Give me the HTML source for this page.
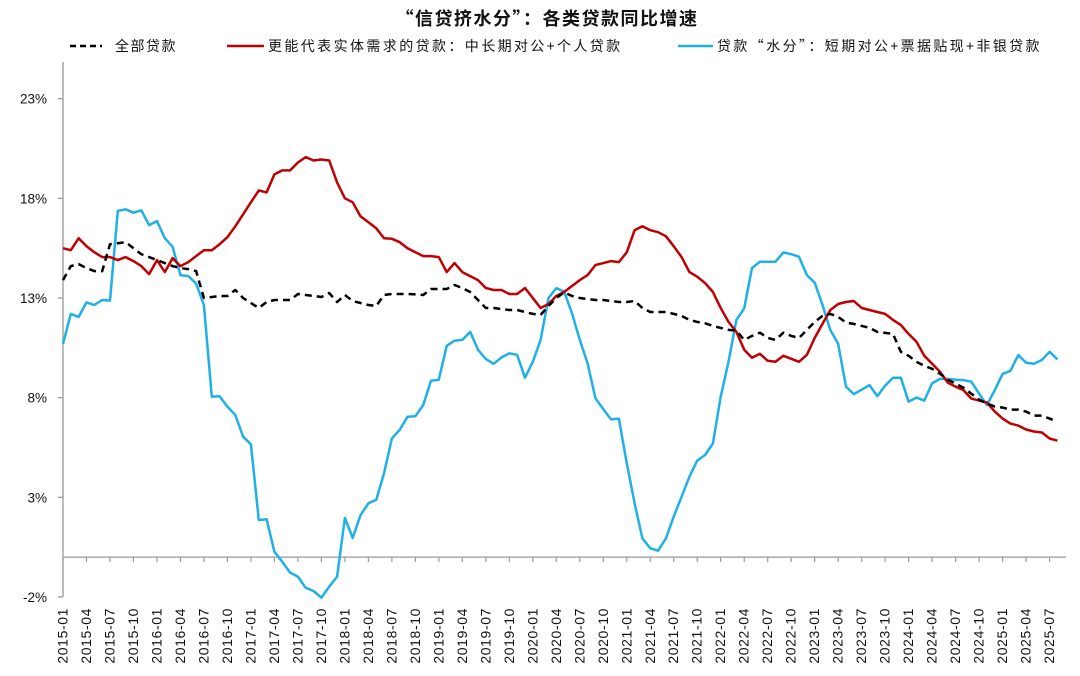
<!DOCTYPE html>
<html><head><meta charset="utf-8">
<style>
html,body{margin:0;padding:0;background:#fff;}
svg{display:block;font-family:"Liberation Sans","Noto Sans CJK SC",sans-serif;}
.cjk{font-family:"Noto Sans CJK SC","Liberation Sans",sans-serif;}
</style></head>
<body>
<svg id="chart" width="1080" height="676" viewBox="0 0 1080 676" xmlns="http://www.w3.org/2000/svg">
<text class="cjk" x="547" y="25" text-anchor="middle" font-size="18" font-weight="bold" fill="#111" letter-spacing="1.5">“信贷挤水分”：各类贷款同比增速</text>
<g>
  <g>
    <line x1="70" y1="46" x2="102" y2="46" stroke="#000" stroke-width="2.5" stroke-dasharray="6,4"/>
    <text class="cjk" x="115" y="51" font-size="14" fill="#111" letter-spacing="1.5">全部贷款</text>
  </g>
  <g>
    <line x1="227" y1="46" x2="264" y2="46" stroke="#c00000" stroke-width="2.5"/>
    <text class="cjk" x="268" y="51" font-size="14" fill="#111" letter-spacing="2.4">更能代表实体需求的贷款：中长期对公+个人贷款</text>
  </g>
  <g>
    <line x1="678" y1="46" x2="713" y2="46" stroke="#1fb0e6" stroke-width="2.5"/>
    <text class="cjk" x="717" y="51" font-size="14" fill="#111" letter-spacing="2.4">贷款“水分”：短期对公+票据贴现+非银贷款</text>
  </g>
</g>
<g id="axes"></g>
<g id="series"></g>
</svg>
<script>
const months = [];
for (let y = 2015; y <= 2025; y++) for (let m = 1; m <= 12; m++) { if (y === 2025 && m > 8) break; months.push(y + '-' + String(m).padStart(2, '0')); }
const yTicks = [-2, 3, 8, 13, 18, 23];
const totalLoans = [13.9,14.6,14.7,14.5,14.35,14.35,15.7,15.75,15.8,15.5,15.2,15.05,14.9,14.75,14.6,14.5,14.45,14.35,13.0,13.05,13.1,13.1,13.4,13.0,12.75,12.5,12.8,12.9,12.9,12.9,13.2,13.15,13.1,13.05,13.25,12.8,13.15,12.85,12.75,12.65,12.6,13.15,13.2,13.2,13.2,13.18,13.15,13.45,13.45,13.45,13.65,13.5,13.3,12.9,12.5,12.5,12.45,12.4,12.4,12.3,12.2,12.15,12.6,13.0,13.28,13.1,13.0,12.95,12.9,12.9,12.85,12.8,12.8,12.85,12.5,12.3,12.3,12.3,12.2,12.1,11.9,11.8,11.73,11.6,11.5,11.4,11.36,10.9,11.1,11.26,11.0,10.9,11.26,11.1,11.0,11.4,11.8,12.1,12.2,12.05,11.76,11.7,11.6,11.5,11.3,11.25,11.2,10.3,10.1,9.8,9.6,9.45,9.2,8.9,8.7,8.5,8.2,7.9,7.7,7.55,7.5,7.4,7.4,7.3,7.1,7.1,6.95,6.8];
const realDemand = [15.5,15.4,16.0,15.6,15.3,15.05,15.05,14.9,15.05,14.85,14.6,14.2,14.9,14.3,15.0,14.6,14.8,15.1,15.4,15.4,15.7,16.05,16.6,17.2,17.8,18.4,18.3,19.2,19.4,19.4,19.8,20.07,19.9,19.95,19.9,18.8,18.0,17.8,17.1,16.8,16.5,16.0,15.97,15.8,15.5,15.3,15.1,15.1,15.05,14.3,14.75,14.3,14.1,13.9,13.5,13.4,13.4,13.2,13.2,13.5,13.0,12.5,12.7,13.1,13.3,13.6,13.9,14.15,14.65,14.75,14.85,14.8,15.3,16.4,16.6,16.4,16.3,16.1,15.6,15.05,14.3,14.07,13.75,13.3,12.5,11.8,11.3,10.4,10.0,10.2,9.85,9.8,10.1,9.95,9.8,10.15,11.0,11.7,12.4,12.7,12.8,12.85,12.5,12.4,12.3,12.2,11.9,11.65,11.2,10.8,10.1,9.7,9.3,8.75,8.55,8.38,7.95,7.85,7.75,7.3,6.95,6.7,6.6,6.4,6.3,6.25,5.95,5.84];
const waterLoans = [10.7,12.2,12.05,12.78,12.65,12.9,12.87,17.37,17.45,17.28,17.4,16.66,16.86,16.0,15.57,14.15,14.1,13.73,12.65,8.05,8.07,7.55,7.13,6.04,5.66,1.86,1.9,0.27,-0.23,-0.78,-0.98,-1.54,-1.7,-2.04,-1.48,-0.98,1.96,0.96,2.1,2.7,2.87,4.2,5.96,6.38,7.04,7.07,7.63,8.85,8.9,10.6,10.86,10.9,11.3,10.4,9.94,9.7,10.02,10.22,10.15,9.0,9.8,10.9,13.0,13.49,13.32,12.23,10.9,9.72,7.97,7.42,6.91,6.95,4.7,2.7,0.94,0.44,0.32,0.94,2.03,3.03,4.03,4.84,5.12,5.7,8.05,9.8,11.9,12.48,14.5,14.82,14.82,14.82,15.29,15.2,15.07,14.15,13.77,12.65,11.4,10.69,8.55,8.18,8.4,8.63,8.08,8.6,9.0,9.0,7.8,8.0,7.85,8.72,8.94,8.94,8.9,8.88,8.8,8.2,7.63,8.38,9.19,9.34,10.14,9.75,9.7,9.89,10.3,9.92];

const NS = 'http://www.w3.org/2000/svg';
const X0 = 63, DX = 7.83;
const xs = i => X0 + DX * i;
const ys = v => 298 - (v - 13) * 19.93;
function mk(tag, attrs, parent) { const e = document.createElementNS(NS, tag); for (const k in attrs) e.setAttribute(k, attrs[k]); parent.appendChild(e); return e; }
const axes = document.getElementById('axes');
const ser = document.getElementById('series');

const yAxis = mk('line', {x1: X0, y1: 62, x2: X0, y2: ys(-2), stroke: '#999', 'stroke-width': 1.3}, axes);


yTicks.forEach(v => {
  const t = mk('line', {x1: X0 - 5, y1: ys(v), x2: X0, y2: ys(v), stroke: '#999', 'stroke-width': 1.3}, axes);
  
  
  const l = mk('text', {x: 47, y: ys(v) + 5, 'text-anchor': 'end', 'font-size': 13.5, fill: '#111'}, axes);
  
  
  l.textContent = v + '%';
});
const xAxis = mk('line', {x1: X0, y1: ys(0), x2: 1066, y2: ys(0), stroke: '#999', 'stroke-width': 1.3}, axes);


months.forEach((m, i) => {
  if (i % 3 !== 0) return;
  const t = mk('line', {x1: xs(i), y1: ys(0), x2: xs(i), y2: ys(0) + 5, stroke: '#999', 'stroke-width': 1.2}, axes);
  
  
  const cx = xs(i) + 4.5;
  const l = mk('text', {x: cx, y: 608, 'text-anchor': 'end', 'font-size': 14, fill: '#111', 'letter-spacing': 0.6, transform: 'rotate(-90 ' + cx + ' 608)'}, axes);
  
  
  l.textContent = m;
});

function drawLine(data, color, dash, name) {
  const d = data.map((v, i) => (i ? 'L' : 'M') + xs(i).toFixed(1) + ' ' + ys(v).toFixed(1)).join(' ');
  const p = mk('path', {d: d, fill: 'none', stroke: color, 'stroke-width': 2.5, 'stroke-linejoin': 'round'}, ser);
  if (dash) p.setAttribute('stroke-dasharray', dash);
  
  
}
drawLine(waterLoans, '#1fb0e6', null, 'series-water-loans');
drawLine(realDemand, '#c00000', null, 'series-real-demand-loans');
drawLine(totalLoans, '#000', '7,5', 'series-total-loans');
</script>
</body></html>
